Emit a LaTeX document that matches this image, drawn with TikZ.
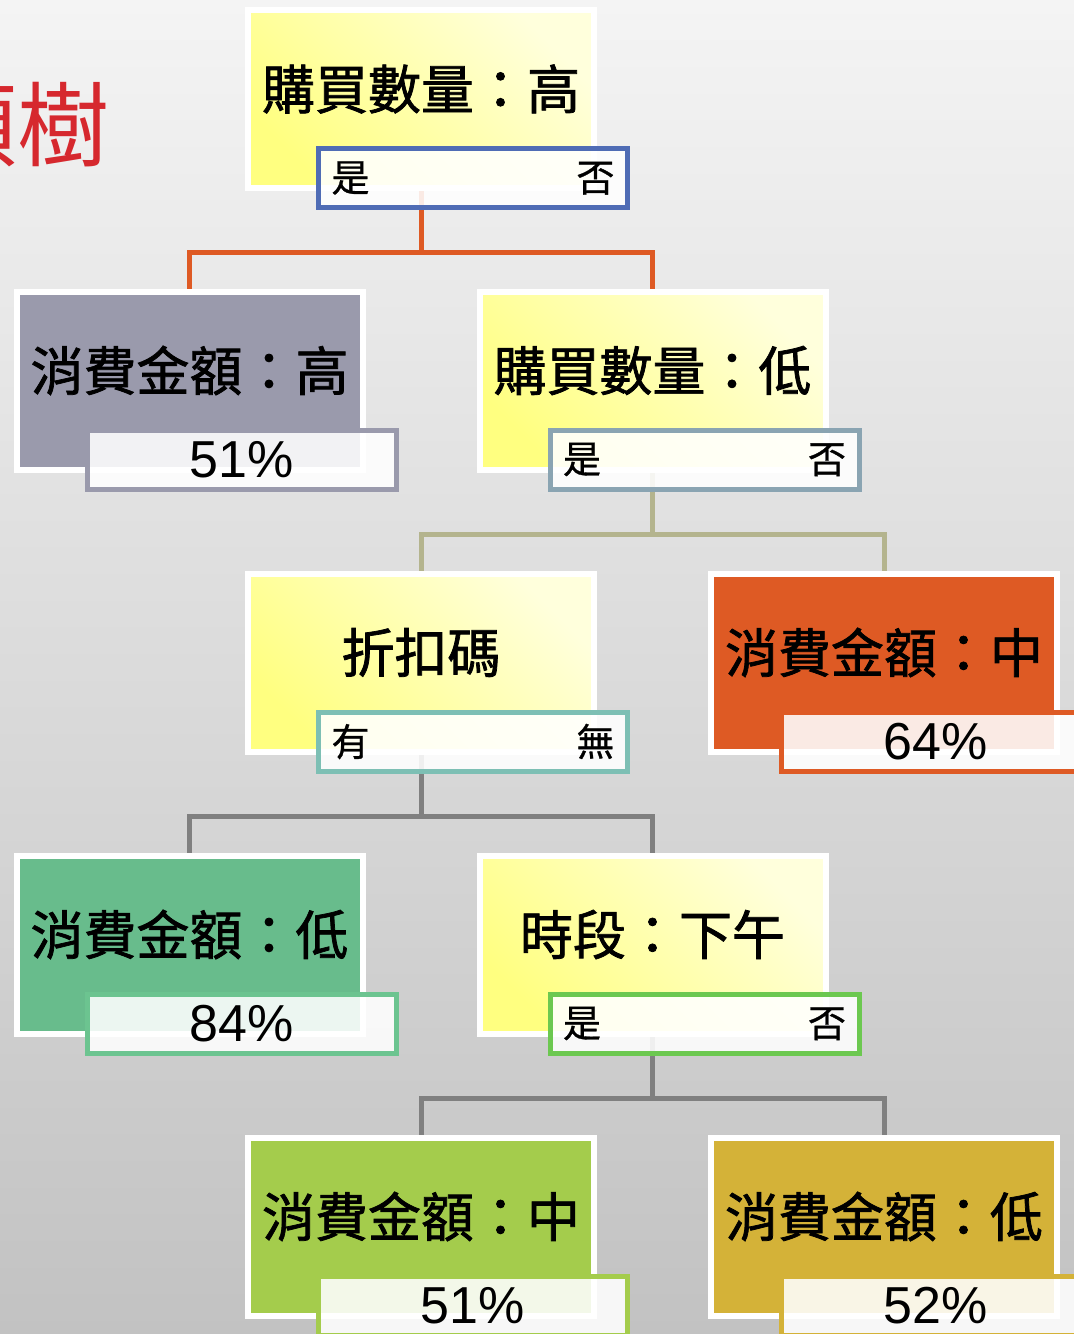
\documentclass[tikz,border=0pt]{standalone}
\usepackage{fontspec}
\setmainfont{Liberation Sans}
\newfontfamily\cjk{Noto Sans CJK TC}
\newfontfamily\cjkm{Noto Sans CJK TC}[FakeBold=1.4]
\newfontfamily\cjks{Noto Sans CJK TC}[FakeBold=0.8]
\pgfdeclarelayer{bgl}
\pgfdeclarelayer{connl}
\pgfsetlayers{bgl,connl,main}
\definecolor{bgtop}{HTML}{F4F4F4}
\definecolor{bgbot}{HTML}{C2C2C2}
\definecolor{titlered}{HTML}{D6282E}
\definecolor{ylight}{HTML}{FFFFDC}
\definecolor{ydark}{HTML}{FFFF80}
\definecolor{cblue}{HTML}{4F6CB5}
\definecolor{corange}{HTML}{DE5A24}
\definecolor{colive}{HTML}{B4B48E}
\definecolor{cgraylink}{HTML}{808080}
\definecolor{cpurple}{HTML}{9A9AAC}
\definecolor{csteel}{HTML}{8AA4B2}
\definecolor{cteal}{HTML}{7DBFB4}
\definecolor{cgreen}{HTML}{68BC8C}
\definecolor{cgreenb}{HTML}{6CC490}
\definecolor{cbright}{HTML}{6CC850}
\definecolor{clime}{HTML}{A4CC4C}
\definecolor{cgold}{HTML}{D4B238}
\tikzset{
  mainbox/.style={rectangle, draw=white, line width=6pt, minimum width=346pt,
    minimum height=178pt, inner sep=0pt, fill=#1},
  yellowbox/.style={rectangle, draw=white, line width=6pt, minimum width=346pt,
    minimum height=178pt, inner sep=0pt, top color=ylight, bottom color=ydark,
    shading angle=-45},
  maintext/.style={font=\cjkm\fontsize{53}{53}\selectfont, inner sep=0pt, text=black},
  subbox/.style={rectangle, draw=#1, line width=5pt, fill=white, fill opacity=0.88,
    text opacity=1, minimum width=309pt, minimum height=59pt, inner sep=0pt},
  yesno/.style={font=\cjks\fontsize{38}{38}\selectfont},
  pct/.style={font=\fontsize{52}{52}\selectfont},
  conn/.style={draw=#1, line width=5pt}
}
\begin{document}
\begin{tikzpicture}[x=1pt,y=-1pt]
\useasboundingbox (0,0) rectangle (1074,1334);
\begin{pgfonlayer}{bgl}
\fill[top color=bgtop, bottom color=bgbot] (0,0) rectangle (1074,1334);
\end{pgfonlayer}
\node[anchor=east, text=titlered, font=\cjk\fontsize{92}{92}\selectfont, inner sep=0pt] (title) at (110,125) {分類樹};

% level 1
\node[yellowbox] (m1) at (421,99) {};
\node[maintext] (t1) at ([yshift=10pt]m1.center) {購買數量：高};
\node[subbox=cblue, yesno] (s1) at ([shift={(52,79)}]m1.center) {\makebox[283pt]{是\hfill 否}};

% level 2
\node[mainbox=cpurple] (m2a) at (189.5,380.5) {};
\node[maintext] (t2a) at ([yshift=10pt]m2a.center) {消費金額：高};
\node[subbox=cpurple, pct] (s2a) at ([shift={(52,79)}]m2a.center) {51\%};

\node[yellowbox] (m2b) at (652.5,380.5) {};
\node[maintext] (t2b) at ([yshift=10pt]m2b.center) {購買數量：低};
\node[subbox=csteel, yesno] (s2b) at ([shift={(52,79)}]m2b.center) {\makebox[283pt]{是\hfill 否}};

% level 3
\node[yellowbox] (m3a) at (421,662.5) {};
\node[maintext] (t3a) at ([yshift=10pt]m3a.center) {折扣碼};
\node[subbox=cteal, yesno] (s3a) at ([shift={(52,79)}]m3a.center) {\makebox[283pt]{有\hfill 無}};

\node[mainbox=corange] (m3b) at (884,662.5) {};
\node[maintext] (t3b) at ([yshift=10pt]m3b.center) {消費金額：中};
\node[subbox=corange, pct] (s3b) at ([shift={(52,79)}]m3b.center) {64\%};

% level 4
\node[mainbox=cgreen] (m4a) at (189.5,944.5) {};
\node[maintext] (t4a) at ([yshift=10pt]m4a.center) {消費金額：低};
\node[subbox=cgreenb, pct] (s4a) at ([shift={(52,79)}]m4a.center) {84\%};

\node[yellowbox] (m4b) at (652.5,944.5) {};
\node[maintext] (t4b) at ([yshift=10pt]m4b.center) {時段：下午};
\node[subbox=cbright, yesno] (s4b) at ([shift={(52,79)}]m4b.center) {\makebox[283pt]{是\hfill 否}};

% level 5
\node[mainbox=clime] (m5a) at (421,1226.5) {};
\node[maintext] (t5a) at ([yshift=10pt]m5a.center) {消費金額：中};
\node[subbox=clime, pct] (s5a) at ([shift={(52,79)}]m5a.center) {51\%};

\node[mainbox=cgold] (m5b) at (884,1226.5) {};
\node[maintext] (t5b) at ([yshift=10pt]m5b.center) {消費金額：低};
\node[subbox=cgold, pct] (s5b) at ([shift={(52,79)}]m5b.center) {52\%};

\begin{pgfonlayer}{connl}
\draw[conn=corange] (m1.south) -- ++(0,61) -| (m2a.north);
\draw[conn=corange] (m1.south) -- ++(0,61) -| (m2b.north);
\draw[conn=colive] (m2b.south) -- ++(0,62) -| (m3a.north);
\draw[conn=colive] (m2b.south) -- ++(0,62) -| (m3b.north);
\draw[conn=cgraylink] (m3a.south) -- ++(0,62) -| (m4a.north);
\draw[conn=cgraylink] (m3a.south) -- ++(0,62) -| (m4b.north);
\draw[conn=cgraylink] (m4b.south) -- ++(0,62) -| (m5a.north);
\draw[conn=cgraylink] (m4b.south) -- ++(0,62) -| (m5b.north);
\end{pgfonlayer}
\end{tikzpicture}
\end{document}
